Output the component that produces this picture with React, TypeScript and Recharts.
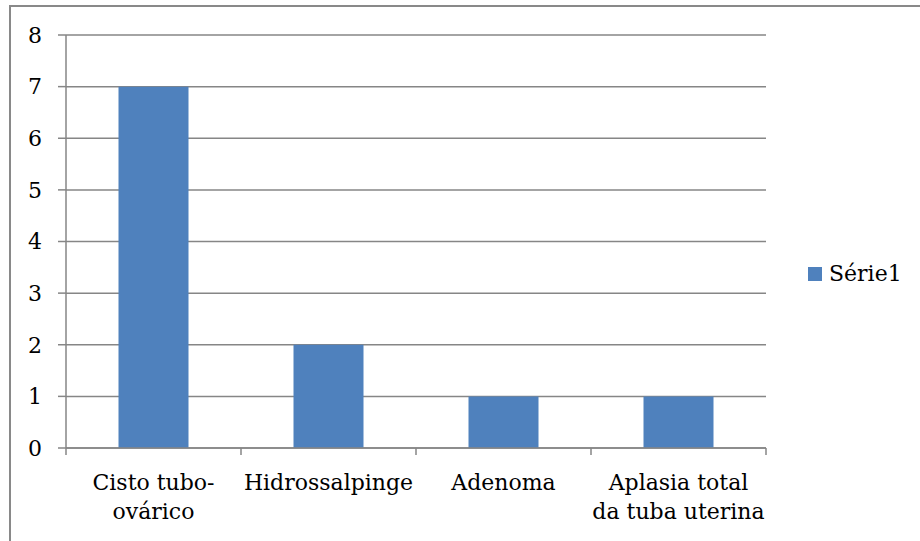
import React from 'react';
import { BarChart, Bar, XAxis, YAxis, CartesianGrid, Legend } from 'recharts';

const categories: string[] = ['Cisto tubo-\novárico', 'Hidrossalpinge', 'Adenoma', 'Aplasia total\nda tuba uterina'];
const values: number[] = [7, 2, 1, 1];
const yTicks: number[] = [0, 1, 2, 3, 4, 5, 6, 7, 8];
const seriesName = 'Série1';

const data = categories.map((c, i) => ({ name: c, value: values[i] }));

const FONT = '"DejaVu Serif", serif';
const GRID = '#868686';
const BAR = '#4F81BD';

const XTick = (props: any) => {
  const { x, y, payload, index } = props;
  const off = payload && typeof payload.offset === 'number' ? payload.offset : 87.5;
  const lines = String(payload.value).split('\n');
  return (
    <g>
      <line x1={x - off} x2={x - off} y1={y} y2={y + 7} stroke={GRID} strokeWidth={1.5} />
      {index === categories.length - 1 && (
        <line x1={x + off} x2={x + off} y1={y} y2={y + 7} stroke={GRID} strokeWidth={1.5} />
      )}
      <text x={x} y={y} textAnchor="middle" fontFamily={FONT} fontSize={22} fill="#000">
        {lines.map((l, i) => (
          <tspan key={i} x={x} dy={i === 0 ? 42 : 29}>
            {l}
          </tspan>
        ))}
      </text>
    </g>
  );
};

const LegendContent = () => (
  <div style={{ display: 'flex', alignItems: 'center', fontFamily: FONT, fontSize: 22, color: '#000', whiteSpace: 'nowrap' }}>
    <span style={{ display: 'inline-block', width: 14, height: 14, background: BAR, marginRight: 7 }} />
    <span>{seriesName}</span>
  </div>
);

export default function App() {
  return (
    <div style={{ position: 'fixed', left: 0, top: 0, width: 920, height: 541, overflow: 'hidden', background: '#fff' }}>
      <div style={{ position: 'absolute', left: 9, top: 5, width: 1000, height: 700, border: '2px solid #898989', boxSizing: 'border-box' }} />
      <div style={{ position: 'absolute', left: 0, top: 0 }}>
        <BarChart width={920} height={541} data={data} margin={{ top: 35, right: 154, bottom: 0, left: 0 }} barCategoryGap="30%">
          <CartesianGrid vertical={false} stroke={GRID} strokeWidth={1.5} />
          <XAxis
            dataKey="name"
            height={93}
            interval={0}
            tickLine={false}
            tickSize={0}
            tickMargin={0}
            axisLine={{ stroke: GRID, strokeWidth: 1.5 }}
            tick={<XTick />}
          />
          <YAxis
            width={66}
            domain={[0, 8]}
            ticks={yTicks}
            interval={0}
            tickSize={8}
            tickMargin={16}
            tickLine={{ stroke: GRID, strokeWidth: 1.5 }}
            axisLine={{ stroke: GRID, strokeWidth: 1.5 }}
            tick={{ fontFamily: FONT, fontSize: 22, fill: '#000' }}
          />
          <Legend
            layout="horizontal"
            align="center"
            verticalAlign="middle"
            wrapperStyle={{ left: 808, top: 261, width: 110 }}
            content={<LegendContent />}
          />
          <Bar dataKey="value" name={seriesName} fill={BAR} isAnimationActive={false} />
        </BarChart>
      </div>
    </div>
  );
}
